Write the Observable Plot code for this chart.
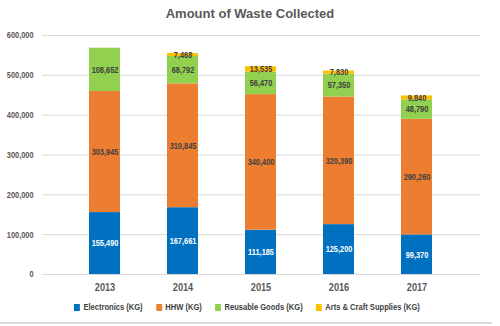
<!DOCTYPE html>
<html><head><meta charset="utf-8">
<script src="https://cdn.jsdelivr.net/npm/d3@7"></script>
<script src="https://cdn.jsdelivr.net/npm/@observablehq/plot@0.6"></script>
<style>
body{margin:0;background:#fff;width:500px;height:326px;overflow:hidden;position:relative;font-family:"Liberation Sans",Arial,sans-serif;}
#title{position:absolute;top:6px;left:0;width:500px;text-align:center;font:bold 13px "Liberation Sans",Arial,sans-serif;color:#595959;}
#chart{position:absolute;top:26px;left:0;}
#legend{position:absolute;top:302px;left:0;width:494px;display:flex;justify-content:center;gap:16px;font-size:9px;font-weight:bold;color:#404040;transform:scaleX(0.84);transform-origin:247px 0;}
#legend span.i{display:flex;align-items:center;gap:4px;}
#legend span.s{width:7px;height:7px;display:inline-block;}
#frame{position:absolute;left:0;top:322px;width:492px;height:2px;background:#d9d9d9;}
</style></head>
<body>
<div id="title">Amount of Waste Collected</div>
<div id="chart"></div>
<div id="legend"></div>
<div id="frame"></div>
<script>
const years = ["2013","2014","2015","2016","2017"];
const series = ["Electronics (KG)","HHW (KG)","Reusable Goods (KG)","Arts & Craft Supplies (KG)"];
const colors = ["#0070C0","#ED7D31","#92D050","#FFC000"];
const electronics = [155490,167661,111185,125200,99370];
const hhw = [303945,310845,340400,320390,290260];
const reusable = [108652,68792,56470,57350,48790];
const arts = [null,7468,13535,7830,9840];
const yTicks = [0,100000,200000,300000,400000,500000,600000];

const values = [electronics, hhw, reusable, arts];
const data = [];
years.forEach((yr, i) => {
  series.forEach((s, j) => {
    const v = values[j][i];
    if (v != null) data.push({year: yr, series: s, value: v, idx: j});
  });
});
const fmt = d3.format(",");
const font = '"Liberation Sans",Arial,sans-serif';

const chart = Plot.plot({
  width: 500, height: 270,
  marginLeft: 42, marginRight: 20, marginTop: 9, marginBottom: 22,
  style: {fontFamily: font, fontSize: "9px", fontWeight: "bold", color: "#595959", background: "transparent"},
  x: {domain: years, padding: 0.6, label: null, tickSize: 0, tickPadding: 9},
  y: {domain: [0, 600000], ticks: yTicks, tickFormat: fmt, label: null, tickSize: 0, tickPadding: 9},
  color: {domain: series, range: colors},
  marks: [
    Plot.gridY(yTicks, {stroke: "#d9d9d9", strokeOpacity: 1, strokeWidth: 1}),
    Plot.barY(data, Plot.stackY({x: "year", y: "value", z: "series", fill: "series"})),
    Plot.text(data, Plot.stackY({x: "year", y: "value", z: "series", text: d => fmt(d.value),
      fill: d => d.idx === 0 ? "#ffffff" : "#404040", fontSize: 9, fontWeight: "bold"}))
  ]
});
document.getElementById("chart").appendChild(chart);

// condense text glyphs horizontally, like a narrow typeface
chart.querySelectorAll("text").forEach(t => {
  const isYear = years.includes(t.textContent);
  if (isYear) t.setAttribute("font-size", "10");
  const w = t.getComputedTextLength();
  t.setAttribute("textLength", (w * (isYear ? 0.92 : 0.82)).toFixed(2));
  t.setAttribute("lengthAdjust", "spacingAndGlyphs");
});

const lg = document.getElementById("legend");
series.forEach((s, j) => {
  const it = document.createElement("span"); it.className = "i";
  const sw = document.createElement("span"); sw.className = "s"; sw.style.background = colors[j];
  const t = document.createElement("span"); t.textContent = s;
  it.appendChild(sw); it.appendChild(t); lg.appendChild(it);
});
</script>
</body></html>
